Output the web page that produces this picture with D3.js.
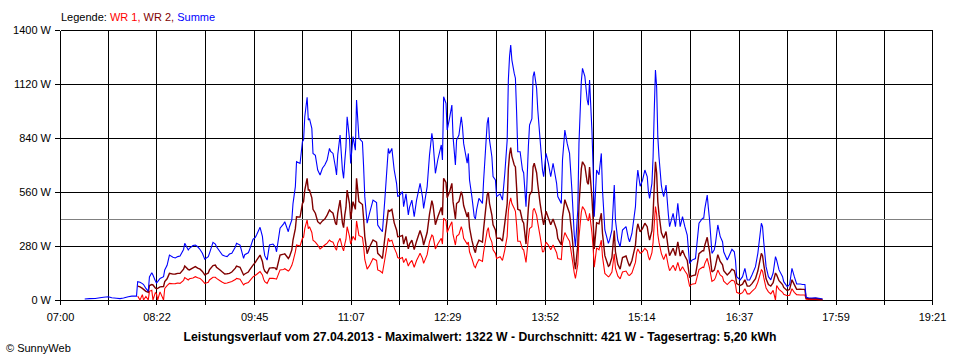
<!DOCTYPE html>
<html><head><meta charset="utf-8">
<script src="https://cdn.jsdelivr.net/npm/d3@7"></script>
<style>
body{margin:0;background:#fff}
svg{display:block}
text{font-family:"Liberation Sans",Arial,sans-serif;font-size:11px;fill:#000}
</style>
</head><body><svg id="c" width="960" height="360"></svg>
<script>
const xTickLabels = ["07:00","08:22","09:45","11:07","12:29","13:52","15:14","16:37","17:59","19:21"];
const yTicks = [0,280,560,840,1120,1400];
const seriesNames = ["WR 1","WR 2","Summe"];
const average = 421;
const titleText = "Leistungsverlauf vom 27.04.2013 - Maximalwert: 1322 W - Durchschnitt: 421 W - Tagesertrag: 5,20 kWh";
const legendLabel = "Legende:";
const copyright = "\u00A9 SunnyWeb";

const times = [
"07:21","07:25","07:30","07:34","07:37","07:41","07:44","07:48","07:51","07:54",
"07:58","08:01","08:05","08:06","08:08","08:10","08:11","08:13","08:15","08:16",
"08:18","08:19","08:21","08:22","08:23","08:25","08:28","08:29","08:31","08:33",
"08:36","08:38","08:40","08:42","08:45","08:46","08:49","08:50","08:53","08:55",
"08:57","08:59","09:01","09:03","09:06","09:07","09:10","09:12","09:13","09:16",
"09:18","09:20","09:22","09:24","09:26","09:29","09:30","09:33","09:36","09:37",
"09:40","09:41","09:44","09:46","09:47","09:50","09:52","09:53","09:54","09:56",
"09:58","10:01","10:03","10:04","10:07","10:10","10:11","10:14","10:15","10:17",
"10:18","10:20","10:21","10:24","10:26","10:27","10:28","10:30","10:31","10:32",
"10:34","10:35","10:37","10:39","10:41","10:43","10:45","10:47","10:49","10:50",
"10:52","10:54","10:55","10:56","10:58","11:00","11:01","11:02","11:03","11:04",
"11:06","11:07","11:09","11:11","11:12","11:14","11:17","11:18","11:19","11:21",
"11:23","11:26","11:29","11:30","11:32","11:34","11:36","11:39","11:40","11:42",
"11:44","11:46","11:47","11:49","11:51","11:52","11:54","11:56","11:57","11:59",
"12:01","12:03","12:06","12:08","12:09","12:12","12:14","12:16","12:17","12:19",
"12:21","12:24","12:25","12:26","12:28","12:29","12:31","12:33","12:34","12:36",
"12:37","12:39","12:41","12:42","12:43","12:46","12:47","12:48","12:50","12:52",
"12:53","12:54","12:56","12:59","13:00","13:03","13:04","13:05","13:07","13:08",
"13:10","13:11","13:14","13:16","13:18","13:20","13:21","13:22","13:23","13:24",
"13:26","13:27","13:28","13:29","13:31","13:33","13:34","13:36","13:38","13:39",
"13:41","13:42","13:43","13:45","13:46","13:48","13:50","13:51","13:53","13:55",
"13:57","13:59","14:02","14:03","14:06","14:07","14:09","14:11","14:13","14:15",
"14:17","14:18","14:20","14:21","14:23","14:24","14:26","14:28","14:29","14:30",
"14:32","14:33","14:34","14:36","14:38","14:40","14:41","14:43","14:46","14:47",
"14:49","14:51","14:52","14:54","14:56","14:58","15:01","15:03","15:04","15:06",
"15:09","15:10","15:11","15:13","15:15","15:17","15:19","15:20","15:21","15:23",
"15:24","15:25","15:26","15:27","15:28","15:29","15:31","15:32","15:33","15:35",
"15:37","15:38","15:41","15:43","15:45","15:47","15:49","15:51","15:53","15:55",
"15:57","16:00","16:01","16:03","16:06","16:07","16:08","16:10","16:11","16:12",
"16:14","16:16","16:17","16:19","16:21","16:23","16:24","16:27","16:29","16:31",
"16:33","16:34","16:35","16:38","16:40","16:42","16:44","16:46","16:48","16:51",
"16:53","16:56","16:57","16:58","17:00","17:02","17:04","17:06","17:08","17:09",
"17:11","17:14","17:15","17:18","17:20","17:22","17:24","17:26","17:29","17:31",
"17:33","17:34","17:36","17:39","17:42","17:46","17:48"];

const summe = [
5,7,8,12,14,17,12,9,7,10,
17,20,20,95,92,85,80,60,45,120,
141,130,100,88,95,112,121,156,180,233,
222,218,225,228,262,294,259,268,282,285,
276,262,242,212,225,242,299,290,276,250,
233,228,225,238,242,275,294,285,216,235,
245,259,315,325,337,377,330,270,230,207,
285,290,275,250,372,395,406,354,380,415,
500,588,717,708,821,830,950,1051,933,940,
890,760,750,674,648,683,700,726,786,770,
760,691,648,752,855,674,631,720,795,950,
838,708,847,777,1037,840,820,691,536,398,
449,518,505,389,370,354,518,786,760,786,
674,605,536,545,562,484,550,441,480,518,
432,518,605,536,475,588,752,864,820,657,
726,804,726,1054,1020,881,942,1011,847,700,
829,855,950,900,812,709,760,622,536,432,
420,467,527,501,622,916,947,829,743,640,
622,536,550,518,657,829,1141,1262,1322,1244,
1175,1150,976,769,769,674,660,484,795,907,
940,1158,1184,1098,985,829,674,640,760,709,
639,709,605,536,501,726,881,812,760,570,
337,276,467,812,1132,1201,1160,1037,1010,1141,
881,691,432,674,650,760,570,363,294,310,
363,596,415,311,276,363,380,320,302,345,
484,605,674,590,620,674,640,562,527,605,
743,985,1192,1106,847,743,596,560,536,596,
441,380,449,380,501,380,432,380,337,190,
207,215,276,398,424,424,475,544,475,415,
242,260,294,389,330,302,250,207,235,263,
250,207,121,104,121,164,104,104,130,173,
242,398,380,302,173,121,104,140,225,207,
156,121,95,69,80,164,121,83,83,80,
80,14,12,10,12,8,5];

const wr2 = [
null,null,null,null,null,null,null,null,null,null,
null,null,null,72,68,60,55,45,40,75,
80,78,62,58,60,68,70,95,110,138,
134,135,138,138,160,176,158,156,166,173,
165,160,148,130,140,156,178,181,170,156,
145,135,136,138,145,165,176,170,130,135,
145,155,181,195,205,233,200,165,150,138,
165,168,165,156,233,238,240,215,225,260,
311,370,432,430,500,510,570,631,570,570,
530,470,450,406,395,410,420,440,467,460,
450,400,390,450,518,400,375,440,480,570,
500,420,510,470,631,510,495,420,330,240,
275,311,300,242,230,215,320,467,460,470,
400,363,328,330,335,290,330,265,290,310,
262,305,360,320,285,350,445,515,490,390,
430,480,440,631,610,530,560,605,510,420,
500,510,562,540,490,430,455,375,310,260,
245,280,310,300,370,545,560,500,440,390,
363,320,320,305,400,500,680,755,790,745,
700,690,585,470,465,410,400,290,475,544,
565,690,709,660,600,500,420,390,460,425,
390,420,365,320,285,430,520,485,450,345,
200,160,285,490,680,717,695,610,600,690,
530,420,265,400,395,450,345,230,175,180,
220,360,250,185,160,220,228,190,175,205,
285,360,395,354,370,398,380,340,311,360,
450,590,717,660,510,445,350,335,320,355,
262,230,268,230,302,228,258,228,205,118,
125,130,165,240,255,255,285,325,285,250,
145,155,178,235,200,182,152,130,142,160,
152,128,85,75,82,105,72,72,85,110,
150,242,230,185,110,80,72,90,140,130,
100,80,65,48,55,105,80,55,56,55,
55,10,8,7,8,5,3];

const wr1 = [
null,null,null,null,null,null,null,null,null,null,
null,null,null,20,0,28,0,18,0,45,
50,0,38,32,0,42,0,60,75,86,
84,85,88,86,102,116,104,110,114,121,
115,112,100,86,92,104,118,118,112,100,
92,86,88,92,96,106,112,108,78,84,
90,98,120,128,132,147,130,108,95,86,
112,112,110,108,156,158,162,150,156,180,
200,250,285,280,320,325,370,415,370,380,
350,310,300,285,265,275,285,295,311,305,
300,268,258,295,320,270,255,290,315,380,
330,290,330,310,410,335,325,280,210,160,
178,215,205,156,150,140,210,320,305,310,
270,242,220,215,220,194,215,176,190,205,
170,205,242,215,190,235,302,337,330,265,
290,320,290,424,410,350,380,406,340,285,
330,340,380,360,320,290,300,250,215,175,
168,185,210,200,250,360,375,330,300,260,
242,215,224,205,260,330,460,505,530,500,
475,460,390,305,305,265,260,195,320,370,
380,465,475,440,400,330,250,250,300,285,
260,285,245,215,210,295,350,325,305,225,
140,112,185,325,455,484,465,420,410,450,
350,275,170,270,260,310,225,138,120,125,
145,240,165,125,110,145,150,130,128,140,
195,245,265,242,250,268,255,225,207,245,
300,395,484,445,340,300,242,225,210,240,
175,152,180,152,195,150,172,150,132,72,
82,85,110,158,170,168,190,216,190,165,
97,104,116,155,130,120,98,80,93,103,
98,80,40,32,38,58,32,32,45,62,
92,156,150,117,62,42,32,50,0,75,
55,40,30,22,25,58,40,28,26,26,
26,4,3,3,3,2,1];

const colors = {"WR 1":"#ff0000","WR 2":"#800000","Summe":"#0000ff"};

const parse = s => { const [h,m] = s.split(":").map(Number); return h*60+m; };
const tickMin = xTickLabels.map(parse);
const gridMin = [];
tickMin.forEach((t,i) => { gridMin.push(t); if (i < tickMin.length-1) gridMin.push((t + tickMin[i+1]) / 2); });

const svg = d3.select("#c");
const x = d3.scaleLinear().domain([tickMin[0], tickMin[tickMin.length-1]]).range([60, 932]);
const y = d3.scaleLinear().domain([0, 1400]).range([300, 30]);

// grid
const grid = svg.append("g").attr("shape-rendering","crispEdges").attr("stroke","#000").attr("stroke-width",1);
grid.selectAll("line.v").data(gridMin).join("line").attr("class","v")
  .attr("x1", d => Math.round(x(d)) + 0.5).attr("x2", d => Math.round(x(d)) + 0.5)
  .attr("y1", y(1400) + 0.5).attr("y2", y(0) + 0.5);
grid.selectAll("line.h").data(yTicks).join("line").attr("class","h")
  .attr("x1", 60.5).attr("x2", Math.round(x(tickMin[tickMin.length-1])) + 0.5)
  .attr("y1", d => Math.round(y(d)) + 0.5).attr("y2", d => Math.round(y(d)) + 0.5);

// average line
svg.append("line").attr("shape-rendering","crispEdges")
  .attr("x1", 61).attr("x2", Math.round(x(tickMin[tickMin.length-1])))
  .attr("y1", Math.round(y(average)) + 0.5).attr("y2", Math.round(y(average)) + 0.5)
  .attr("stroke","#808080").attr("stroke-width",1);

// axes
const labelMap = new Map(tickMin.map((t,i) => [t, xTickLabels[i]]));
const xAxis = d3.axisBottom(x).tickValues(gridMin).tickSize(5).tickSizeOuter(0).tickPadding(8)
  .tickFormat(d => labelMap.get(d) || "");
const yAxis = d3.axisLeft(y).tickValues(yTicks).tickSize(5).tickSizeOuter(0).tickPadding(4)
  .tickFormat(d => d + " W");

const gx = svg.append("g").attr("transform", "translate(0,300)").call(xAxis);
const gy = svg.append("g").attr("transform", "translate(60,0)").call(yAxis);
[gx, gy].forEach(g => {
  g.attr("font-family", null).attr("font-size", null);
  g.selectAll("path, line").attr("stroke", "#000").attr("shape-rendering", "crispEdges");
  g.selectAll("text").attr("fill", "#000").style("font-size", "11px");
});

// data
const rows = times.map((t,i) => ({t: parse(t), "WR 1": wr1[i], "WR 2": wr2[i], "Summe": summe[i]}));
seriesNames.forEach(name => {
  const line = d3.line()
    .defined(d => d[name] !== null && d[name] !== undefined)
    .x(d => x(d.t)).y(d => y(d[name]))
    .curve(d3.curveLinear);
  svg.append("path").datum(rows).attr("d", line)
    .attr("fill","none").attr("stroke", colors[name])
    .attr("stroke-width", name === "WR 2" ? 1.4 : 1.1)
    .attr("stroke-linejoin","miter").attr("stroke-miterlimit", 2);
});

// legend
const lg = svg.append("text").attr("x", 61).attr("y", 21);
lg.append("tspan").text(legendLabel + " ");
seriesNames.forEach((n,i) => {
  lg.append("tspan").style("fill", colors[n]).text(n + (i < seriesNames.length-1 ? ", " : ""));
});

// title
svg.append("text").attr("x", 480).attr("y", 341).attr("text-anchor","middle")
  .style("font-weight","bold").style("font-size","12px")
  .attr("textLength", 593).attr("lengthAdjust","spacingAndGlyphs")
  .text(titleText);

svg.append("text").attr("x", 6).attr("y", 352).text(copyright);
</script>
</body></html>
